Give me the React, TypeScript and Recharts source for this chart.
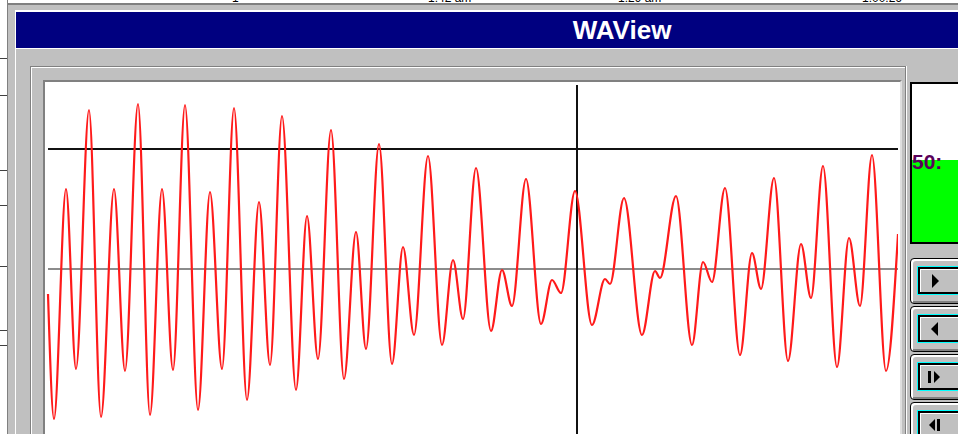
import React from "react";
import { LineChart, Line, XAxis, YAxis, ReferenceLine } from "recharts";

// sample time (ms from left edge of trace) and amplitude (units, 0 = baseline)
const timeMs = [
  3, 9, 21, 31, 44, 56, 69, 80, 93, 105,
  117, 128, 140, 153, 165, 177, 189, 202, 214, 225,
  237, 251, 262, 273, 286, 299, 311, 321, 334, 347,
  358, 369, 383, 397, 408, 418, 431, 446, 457, 467,
  481, 496, 507, 516, 530, 547, 560, 565, 579, 597,
  610, 615, 631, 647, 658, 667, 680, 695, 707, 716,
  729, 743, 756, 766, 778, 792, 804, 815, 827, 841,
  853,
];
const amplitude = [
  -25, -150, 80, -100, 159, -148, 80, -102, 165, -146,
  80, -101, 164, -141, 77, -100, 161, -131, 67, -96,
  153, -121, 53, -90, 139, -110, 37, -80, 125, -95,
  22, -66, 113, -76, 9, -50, 101, -62, -1, -37,
  90, -55, -11, -24, 78, -56, -10, -15, 71, -66,
  -2, -9, 73, -76, 7, -13, 81, -86, 16, -20,
  91, -92, 25, -29, 103, -98, 31, -37, 114, -102,
  35,
];
const thresholdLevel = 120;
const baselineLevel = 0;
const cursorTime = 532;
const traceStart = 3;
const traceEnd = 853;
const timeDomain = [0, 853];
const ampDomain = [-187, 187];
const titleText = "WAView";
const levelLabel = "50:";
const headerTexts = [
  { x: 232, t: "1" },
  { x: 428, t: "1:42 am" },
  { x: 618, t: "1:29 am" },
  { x: 862, t: "1:00:26" },
];
const leftMarks = [58, 95, 170, 205, 266, 330, 345];

const data = timeMs.map((t, i) => ({ t, v: amplitude[i] }));

const abs = (s: React.CSSProperties): React.CSSProperties => ({ position: "absolute", ...s });

function Glyph({ kind }: { kind: number }) {
  return (
    <svg width={14} height={16} style={{ position: "absolute", left: 8, top: 4 }}>
      {kind === 0 && <polygon points="4,1 11,8 4,15" fill="#000" />}
      {kind === 1 && <polygon points="10,1 3,8 10,15" fill="#000" />}
      {kind === 2 && (
        <g>
          <rect x={0} y={2} width={3} height={12} fill="#000" />
          <polygon points="6,2 12,8 6,14" fill="#000" />
        </g>
      )}
      {kind === 3 && (
        <g>
          <polygon points="7,2 1,8 7,14" fill="#000" />
          <rect x={9} y={2} width={3} height={12} fill="#000" />
        </g>
      )}
    </svg>
  );
}

export default function App() {
  const buttonTops = [258, 306, 354, 402];
  return (
    <div
      style={{
        position: "fixed",
        left: 0,
        top: 0,
        width: 958,
        height: 434,
        overflow: "hidden",
        background: "#c0c0c0",
        fontFamily: '"Liberation Sans", "DejaVu Sans", sans-serif',
      }}
    >
      {/* top strip */}
      <div style={abs({ left: 0, top: 0, width: 958, height: 3, background: "#ffffff" })} />
      <div style={abs({ left: 0, top: 3, width: 958, height: 2, background: "#808080" })} />
      {headerTexts.map((h, i) => (
        <div key={i} style={abs({ left: h.x, top: -9, fontSize: 12, color: "#000", whiteSpace: "nowrap" })}>
          {h.t}
        </div>
      ))}
      {/* left strip */}
      <div style={abs({ left: 0, top: 0, width: 7, height: 434, background: "#ffffff" })} />
      <div style={abs({ left: 7, top: 0, width: 1, height: 434, background: "#808080" })} />
      {leftMarks.map((y, i) => (
        <div key={i} style={abs({ left: 0, top: y, width: 7, height: 1, background: "#404040" })} />
      ))}
      {/* window frame highlight */}
      <div style={abs({ left: 15, top: 10, width: 943, height: 2, background: "#ffffff" })} />
      <div style={abs({ left: 15, top: 10, width: 1, height: 424, background: "#ffffff" })} />
      {/* title bar */}
      <div style={abs({ left: 16, top: 12, width: 942, height: 36, background: "#000080" })} />
      <div style={abs({ left: 16, top: 48, width: 942, height: 1, background: "#ffffff" })} />
      <div
        style={abs({
          left: 500,
          top: 14,
          width: 244,
          textAlign: "center",
          color: "#ffffff",
          fontWeight: 700,
          fontSize: 26,
          lineHeight: "32px",
        })}
      >
        {titleText}
      </div>
      {/* plot panel etched frame */}
      <div
        style={abs({
          left: 30,
          top: 66,
          width: 874,
          height: 400,
          borderTop: "1px solid #808080",
          borderLeft: "1px solid #808080",
          borderRight: "1px solid #808080",
          boxShadow: "inset 1px 1px 0 #ffffff, 1px 0 0 #ffffff",
        })}
      />
      <div
        style={abs({
          left: 43,
          top: 80,
          width: 855,
          height: 380,
          borderTop: "2px solid #808080",
          borderLeft: "2px solid #808080",
          borderRight: "2px solid #dfdfdf",
          background: "#ffffff",
        })}
      />
      {/* chart */}
      <div style={abs({ left: 45, top: 82, width: 853, height: 352, overflow: "hidden" })}>
        <LineChart width={853} height={374} data={data} margin={{ top: 0, right: 0, bottom: 0, left: 0 }}>
          <XAxis dataKey="t" type="number" domain={timeDomain} hide allowDataOverflow />
          <YAxis type="number" domain={ampDomain} hide allowDataOverflow />
          <ReferenceLine
            segment={[{ x: traceStart, y: baselineLevel }, { x: traceEnd, y: baselineLevel }]}
            stroke="#8c8c8c"
            strokeWidth={2}
          />
          <ReferenceLine
            segment={[{ x: traceStart, y: thresholdLevel }, { x: traceEnd, y: thresholdLevel }]}
            stroke="#111111"
            strokeWidth={2}
          />
          <ReferenceLine
            segment={[{ x: cursorTime, y: 184 }, { x: cursorTime, y: -187 }]}
            stroke="#111111"
            strokeWidth={2}
          />
          <Line
            type="monotone"
            dataKey="v"
            stroke="#ff1a1a"
            strokeWidth={2.2}
            dot={false}
            isAnimationActive={false}
          />
        </LineChart>
      </div>
      {/* right level box */}
      <div
        style={abs({
          left: 910,
          top: 82,
          width: 60,
          height: 158,
          borderTop: "2px solid #000",
          borderLeft: "2px solid #000",
          borderBottom: "2px solid #000",
          background: "#ffffff",
          overflow: "hidden",
        })}
      >
        <div style={abs({ left: 0, top: 76, width: 60, height: 84, background: "#00ff00" })} />
        <div
          style={abs({
            left: 0,
            top: 66,
            fontSize: 21,
            fontWeight: 700,
            color: "#5a005a",
            lineHeight: "24px",
            whiteSpace: "nowrap",
          })}
        >
          {levelLabel}
        </div>
      </div>
      {/* buttons */}
      {buttonTops.map((top, i) => (
        <div
          key={i}
          style={abs({
            left: 910,
            top,
            width: 70,
            height: 44,
            border: "1px solid #000",
            borderRadius: 4,
            background: "#c0c0c0",
            boxShadow: "inset 2px 2px 0 #ffffff, inset -2px -2px 0 #808080",
          })}
        >
          <div
            style={abs({
              left: 7,
              top: 8,
              width: 60,
              height: 23,
              border: "2px solid #000",
              outline: "1px solid #00ffff",
              background: "#c0c0c0",
              boxShadow: "inset 1px 1px 0 #ffffff",
            })}
          >
            <Glyph kind={i} />
          </div>
        </div>
      ))}
    </div>
  );
}
